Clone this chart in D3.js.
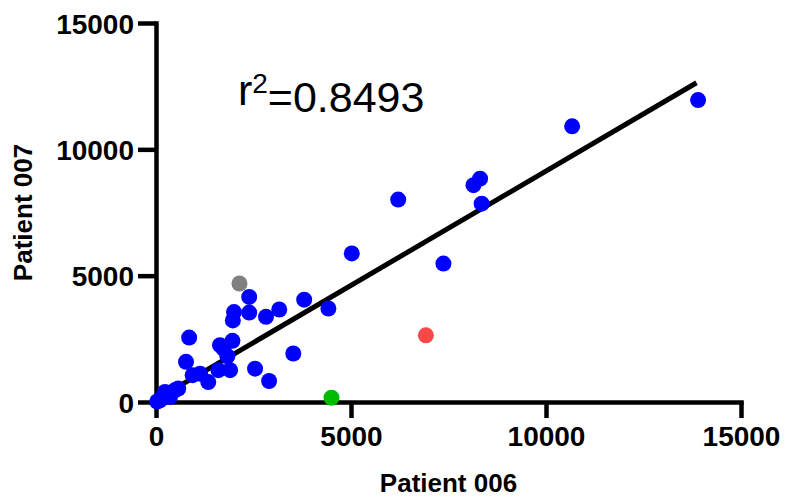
<!DOCTYPE html>
<html>
<head>
<meta charset="utf-8">
<script src="https://cdn.jsdelivr.net/npm/d3@7"></script>
<style>
  body { margin: 0; background: #fff; }
  svg text { font-family: "Liberation Sans", Arial, sans-serif; }
</style>
</head>
<body>
<div id="chart"></div>
<script>
// Patient 006 (x) vs Patient 007 (y)
const blue006 = [13900, 10670, 8310, 8140, 8350, 6210, 5020, 7370, 3800, 4420,
  3160, 2390, 2000, 2390, 1970, 2820, 850, 1960, 1730, 1830, 1640, 3520, 770,
  1900, 1600, 1340, 940, 1130, 2540, 2900, 570, 360, 230, 100, 30, 150, 490, 310];
const blue007 = [11950, 10910, 8840, 8580, 7850, 8010, 5880, 5480, 4050, 3700,
  3660, 4160, 3560, 3540, 3230, 3370, 2550, 2420, 2110, 1810, 2250, 1920, 1590,
  1260, 1260, 790, 1060, 1120, 1320, 830, 530, 200, 400, 70, 20, 150, 470, 340];
const gray006 = [2140], gray007 = [4690];
const red006 = [6920], red007 = [2640];
const green006 = [4500], green007 = [170];

const fitSlope = 0.905;
const fitIntercept = 91;
const fitRange = [0, 13860];
const r2Text = "0.8493";

const ticks = [0, 5000, 10000, 15000];

const width = 785, height = 499;
const margin = { top: 23, right: 44, bottom: 97, left: 156 };

const svg = d3.select("#chart").append("svg")
  .attr("width", width)
  .attr("height", height);

const x = d3.scaleLinear().domain([0, 15000]).range([margin.left, width - margin.right]);
const y = d3.scaleLinear().domain([0, 15000]).range([height - margin.bottom, margin.top]);

const xAxis = svg.append("g")
  .attr("transform", `translate(0,${y(0)})`)
  .call(d3.axisBottom(x).tickValues(ticks).tickFormat(d3.format("d"))
    .tickSize(16).tickSizeOuter(0).tickPadding(8));
const yAxis = svg.append("g")
  .attr("transform", `translate(${x(0)},0)`)
  .call(d3.axisLeft(y).tickValues(ticks).tickFormat(d3.format("d"))
    .tickSize(18).tickSizeOuter(0).tickPadding(4));

[xAxis, yAxis].forEach(g => {
  g.select(".domain").attr("stroke", "#000").attr("stroke-width", 4.5).attr("stroke-linecap", "square");
  g.selectAll(".tick line").attr("stroke", "#000").attr("stroke-width", 4.5);
  g.selectAll(".tick text")
    .attr("fill", "#000")
    .style("font-size", "28px")
    .style("font-weight", "bold");
});
yAxis.selectAll(".tick text").attr("dy", "0.36em");

svg.append("text")
  .attr("x", (x(0) + x(15000)) / 2)
  .attr("y", 492)
  .attr("text-anchor", "middle")
  .style("font-size", "26px")
  .style("font-weight", "bold")
  .text("Patient 006");

svg.append("text")
  .attr("transform", `translate(32,${(y(0) + y(15000)) / 2}) rotate(-90)`)
  .attr("text-anchor", "middle")
  .style("font-size", "26px")
  .style("font-weight", "bold")
  .text("Patient 007");

// regression line
svg.append("line")
  .attr("x1", x(fitRange[0]))
  .attr("y1", y(fitSlope * fitRange[0] + fitIntercept))
  .attr("x2", x(fitRange[1]))
  .attr("y2", y(fitSlope * fitRange[1] + fitIntercept))
  .attr("stroke", "#000")
  .attr("stroke-width", 5);

const r2 = svg.append("text")
  .attr("x", x(2100))
  .attr("y", y(11750))
  .style("font-size", "43px");
r2.append("tspan").text("r");
r2.append("tspan").attr("dy", "-0.45em").style("font-size", "28px").text("2");
r2.append("tspan").attr("dy", "0.45em").text("=" + r2Text);

function drawPoints(xs, ys, color) {
  svg.append("g")
    .selectAll("circle")
    .data(xs.map((d, i) => [d, ys[i]]))
    .join("circle")
    .attr("cx", d => x(d[0]))
    .attr("cy", d => y(d[1]))
    .attr("r", 8)
    .attr("fill", color);
}

drawPoints(blue006, blue007, "#0000ff");
drawPoints(gray006, gray007, "#808080");
drawPoints(red006, red007, "#f84848");
drawPoints(green006, green007, "#00bb00");
</script>
</body>
</html>
